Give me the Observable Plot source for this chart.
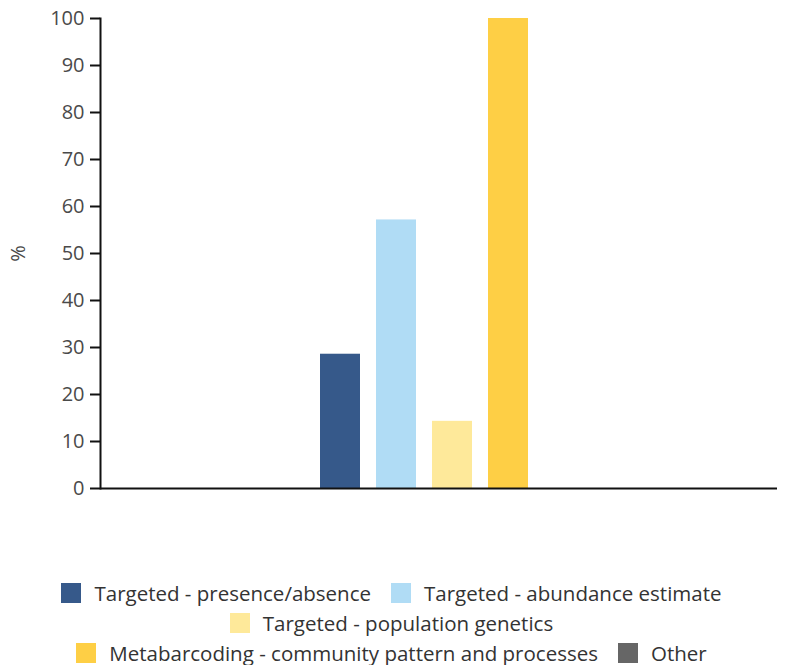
<!DOCTYPE html>
<html>
<head>
<meta charset="utf-8">
<script src="https://cdn.jsdelivr.net/npm/d3@7"></script>
<script src="https://cdn.jsdelivr.net/npm/@observablehq/plot@0.6"></script>
<style>
  body { margin: 0; background: #fff; font-family: "Open Sans", sans-serif; }
  #chart { width: 791px; }
  .legend { display: flex; flex-wrap: wrap; justify-content: center; max-width: 720px; margin: 0 auto; padding-right: 8px; row-gap: 6px; column-gap: 20px; }
  .item { display: flex; align-items: center; font-size: 20.5px; color: #333; height: 24px; }
  .sw { width: 20px; height: 20px; margin-right: 13px; }
</style>
</head>
<body>
<div id="chart"></div>
<script>
const series = [
  "Targeted - presence/absence",
  "Targeted - abundance estimate",
  "Targeted - population genetics",
  "Metabarcoding - community pattern and processes",
  "Other"
];
const values = [28.57, 57.14, 14.29, 100, 0];
const colors = ["#36598a", "#b0dcf5", "#fee99a", "#fecf45", "#666666"];
const yTicks = [0, 10, 20, 30, 40, 50, 60, 70, 80, 90, 100];

const data = series.map((s, i) => ({series: s, value: values[i]}));

const plot = Plot.plot({
  width: 791,
  height: 581,
  marginLeft: 100,
  marginRight: 14,
  marginTop: 18,
  marginBottom: 93,
  style: {fontFamily: "Open Sans, sans-serif", fontSize: "20px", color: "#4a4a4a"},
  x: {domain: series, range: [320, 584], paddingInner: 16/56, paddingOuter: 0, axis: null},
  y: {domain: [0, 100], ticks: yTicks},
  color: {domain: series, range: colors},
  marks: [
    Plot.barY(data, {x: "series", y: "value", fill: "series"}),
    Plot.axisY({ticks: yTicks, tickSize: 10, tickPadding: 6, strokeWidth: 2, stroke: "#111",
      label: "%", labelAnchor: "center", labelArrow: "none", labelOffset: 90, fontSize: 20}),
    Plot.frame({anchor: "left", stroke: "#111", strokeWidth: 2}),
    Plot.ruleY([0], {stroke: "#111", strokeWidth: 2})
  ]
});
document.getElementById("chart").appendChild(plot);

const legend = document.createElement("div");
legend.className = "legend";
series.forEach((s, i) => {
  const item = document.createElement("div");
  item.className = "item";
  const sw = document.createElement("span");
  sw.className = "sw";
  sw.style.background = colors[i];
  item.appendChild(sw);
  item.appendChild(document.createTextNode(s));
  legend.appendChild(item);
});
document.getElementById("chart").appendChild(legend);
</script>
</body>
</html>
